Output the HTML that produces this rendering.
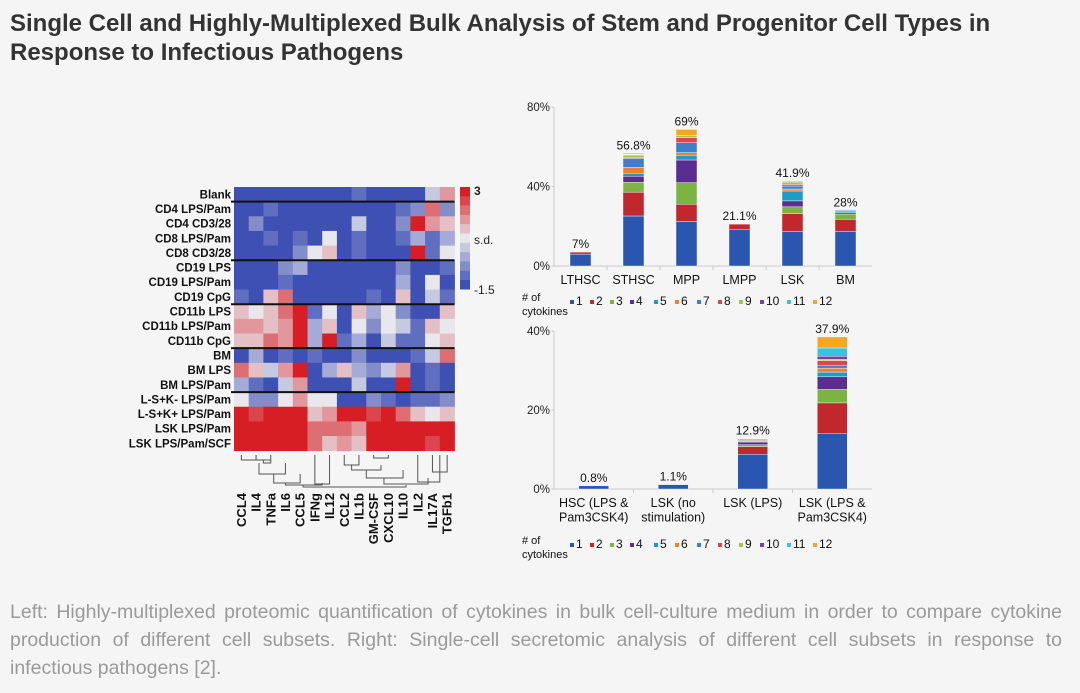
<!DOCTYPE html>
<html><head><meta charset="utf-8"><style>
body{margin:0;width:1080px;height:693px;background:#f5f5f5;overflow:hidden;font-family:"Liberation Sans",sans-serif;position:relative}
h1{position:absolute;left:10px;top:9px;margin:0;font-size:24px;line-height:29px;color:#333;font-weight:bold;width:1060px}
.cap{position:absolute;left:10px;width:1052px;font-size:19.5px;color:#9a9a9a;line-height:28px;text-align:justify;text-align-last:justify;white-space:nowrap}
svg{position:absolute;left:0;top:0}
</style></head><body>
<h1>Single Cell and Highly-Multiplexed Bulk Analysis of Stem and Progenitor Cell Types in Response to Infectious Pathogens</h1>
<div class="cap" style="top:598px">Left: Highly-multiplexed proteomic quantification of cytokines in bulk cell-culture medium in order to compare cytokine</div>
<div class="cap" style="top:626px">production of different cell subsets. Right: Single-cell secretomic analysis of different cell subsets in response to</div>
<div class="cap" style="top:654px;text-align-last:left">infectious pathogens [2].</div>
<svg width="1080" height="693" id="chart"></svg>
<script>
const rowLabels=["Blank","CD4 LPS/Pam","CD4 CD3/28","CD8 LPS/Pam","CD8 CD3/28","CD19 LPS","CD19 LPS/Pam","CD19 CpG","CD11b LPS","CD11b LPS/Pam","CD11b CpG","BM","BM LPS","BM LPS/Pam","L-S+K- LPS/Pam","L-S+K+ LPS/Pam","LSK LPS/Pam","LSK LPS/Pam/SCF"];
const colLabels=["CCL4","IL4","TNFa","IL6","CCL5","IFNg","IL12","CCL2","IL1b","GM-CSF","CXCL10","IL10","IL2","IL17A","TGFb1"];
const heatLevels=[
[0,0,0,0,0,0,0,0,1,0,0,0,0,4,7],
[0,0,1,0,0,0,0,0,0,0,0,1,2,8,2],
[0,2,0,0,0,0,0,0,4,0,0,2,10,7,6],
[0,0,1,0,1,0,5,0,1,0,0,1,3,1,3],
[0,0,0,0,2,5,6,0,1,0,0,0,10,1,5],
[0,0,0,2,3,0,0,0,0,0,0,2,0,0,1],
[0,0,0,1,0,0,0,0,0,0,0,3,0,5,0],
[1,0,6,8,0,0,0,0,0,1,0,6,0,4,1],
[6,5,6,8,10,1,5,0,6,3,5,2,0,0,6],
[7,7,6,7,10,3,6,0,5,2,5,4,1,6,5],
[6,6,8,7,10,3,10,1,3,0,4,1,1,5,6],
[0,3,0,1,0,1,0,0,2,0,0,0,1,4,8],
[8,6,4,7,10,0,3,6,3,2,4,7,0,1,0],
[3,1,0,4,7,0,0,0,4,0,0,10,0,1,0],
[5,2,2,5,7,5,5,0,0,2,1,0,1,1,2],
[10,9,10,10,10,6,7,10,10,9,10,8,6,5,6],
[10,10,10,10,10,8,8,8,7,10,10,10,10,10,10],
[10,10,10,10,10,8,6,7,6,10,10,10,10,9,10]];
const groupBreaks=[1,5,8,11,14];
const scaleTicks=["3","s.d.","-1.5"];
const catsTop=["LTHSC","STHSC","MPP","LMPP","LSK","BM"];
const totalsTop=["7%","56.8%","69%","21.1%","41.9%","28%"];
const segsTop=[
[6,1,0,0,0,0,0,0,0,0,0,0],
[25.2,12,5,3,1.5,3,4.5,0.5,1,0.3,0.3,0.5],
[22.4,8.7,10.9,11.4,2.4,1.3,5,2.5,1.2,0,0,3],
[18.5,2.6,0,0,0,0,0,0,0,0,0,0],
[17.3,9.1,3.4,3,5,1,1.5,0.8,1.2,0.3,0.3,0],
[17.3,6.2,2.7,0.6,0.5,0,0.7,0,0,0,0,0]];
const yTicksTop=[0,40,80];
const catsBot=[["HSC (LPS &","Pam3CSK4)"],["LSK (no","stimulation)"],["LSK (LPS)"],["LSK (LPS &","Pam3CSK4)"]];
const totalsBot=["0.8%","1.1%","12.9%","37.9%"];
const segsBot=[
[0.8,0,0,0,0,0,0,0,0,0,0,0],
[1.1,0,0,0,0,0,0,0,0,0,0,0],
[8.8,1.9,0.5,0.7,0.2,0.2,0.2,0.2,0.1,0,0,0],
[14.1,7.7,3.4,3.2,1.2,1,0.6,1.3,0.3,0.8,2.1,2.8]];
const yTicksBot=[0,20,40];
const legendKeys=["1","2","3","4","5","6","7","8","9","10","11","12"];
const segColors=["#2a56b0","#c0282d","#7cb342","#5c2d91","#1e9cc6","#f0812a","#3f7fc9","#e0454b","#a3c94a","#7a3fa0","#38c3e0","#f5a623"];

const svg=document.getElementById('chart');const NS="http://www.w3.org/2000/svg";
function mk(t,a,p){const e=document.createElementNS(NS,t);for(const k in a)e.setAttribute(k,a[k]);(p||svg).appendChild(e);return e;}
function txt(s,a,p){const e=mk('text',a,p);e.textContent=s;return e;}
function heatColor(l){const blue=[62,80,180],white=[232,232,236],red=[214,30,36];let c;
 if(l<=5){const t=l/5;c=blue.map((b,i)=>Math.round(b+(white[i]-b)*t));}else{const t=(l-5)/5;c=white.map((w,i)=>Math.round(w+(red[i]-w)*t));}
 return `rgb(${c})`;}
const hx=234,hy=187,cw=14.7,rh=14.65;
const hm=mk('g',{});
heatLevels.forEach((row,r)=>{row.forEach((v,c)=>{const e=mk('rect',{x:hx+c*cw,y:hy+r*rh,width:cw+0.4,height:rh+0.4,fill:heatColor(v)},hm);

});
const t=txt(rowLabels[r],{x:231,y:hy+r*rh+rh/2+4,'text-anchor':'end','font-size':11.5,'font-weight':'bold',fill:'#111'});

});
groupBreaks.forEach(b=>{const l=mk('line',{x1:hx-3,x2:hx+cw*15,y1:hy+b*rh,y2:hy+b*rh,stroke:'#111','stroke-width':2});

});
colLabels.forEach((s,c)=>{const x=hx+c*cw+cw/2+4.5;const t=txt(s,{x:x,y:493,transform:`rotate(-90 ${x} 493)`,'text-anchor':'end','font-size':13,'font-weight':'bold',fill:'#111'});

});
const cx=i=>hx+i*cw+cw/2;
const dg=mk('g',{stroke:'#555','stroke-width':1,fill:'none'});
const seg=(x1,y1,x2,y2)=>mk('path',{d:`M${x1},${y1}V${y2}H${x2}V${y1}`},dg);
seg(cx(0),455,cx(1),460);seg(cx(1.5),460,cx(2),463);seg(cx(2),455,cx(1),460);
seg(cx(1.2),463,cx(3),474);seg(cx(2.2),474,cx(4),483);seg(cx(5),455,cx(6),484);seg(cx(3),483,cx(5.5),485);
seg(cx(7),455,cx(8),465);seg(cx(9),455,cx(10),458);seg(cx(7.5),465,cx(9.5),470);seg(cx(8.5),470,cx(11),478);
seg(cx(13),455,cx(14),472);seg(cx(12),455,cx(13.5),482);seg(cx(9.7),478,cx(12.7),484);seg(cx(4.2),485,cx(11.2),487);
for(let i=0;i<11;i++){const e=mk('rect',{x:460,y:187+i*9.3,width:10,height:9.5,fill:heatColor(10-i)});

}
[[191],[240],[290]].forEach((p,i)=>{const t=txt(scaleTicks[i],{x:474,y:p[0]+4,'font-size':12,'font-weight':i==0?'bold':'normal',fill:'#222'});

});

function barChart(o){
 const y=v=>o.y0-v*o.k;
 mk('line',{x1:o.ax,x2:o.ax,y1:y(o.ticks[o.ticks.length-1]),y2:o.y0,stroke:'#ccc'});
 mk('line',{x1:o.ax,x2:o.ax2,y1:o.y0,y2:o.y0,stroke:'#ccc'});
 o.ticks.forEach(t=>{const e=txt(t+'%',{x:o.ax-4,y:y(t)+4,'text-anchor':'end','font-size':11.5,fill:'#222'});
 
 
 mk('line',{x1:o.ax-3,x2:o.ax,y1:y(t),y2:y(t),stroke:'#ccc'});});
 const n=o.cats.length,step=(o.ax2-o.ax)/n;
 o.cats.forEach((c,i)=>{const xc=o.ax+step*(i+0.5);let acc=0;
  o.segs[i].forEach((v,j)=>{if(v<=0)return;const r=mk('rect',{x:xc-o.bw/2,y:y(acc+v),width:o.bw,height:v*o.k,fill:segColors[j],stroke:'#fff','stroke-width':0.4});
  
  acc+=v;});
  const t=txt(o.totals[i],{x:xc,y:y(acc)-4,'text-anchor':'middle','font-size':12,fill:'#111'});
  
  
  (Array.isArray(c)?c:[c]).forEach((s,k)=>{const e=txt(s,{x:xc,y:o.y0+18+k*14.5,'text-anchor':'middle','font-size':12.5,fill:'#111'});
  
  });
  if(i>0) mk('line',{x1:o.ax+step*i,x2:o.ax+step*i,y1:o.y0,y2:o.y0+4,stroke:'#ccc'});
 });
 const ly=o.ly;
 txt('# of',{x:522,y:ly,'font-size':11,fill:'#111'});txt('cytokines',{x:522,y:ly+14,'font-size':11,fill:'#111'});
 const lx=[570,590,610,630,654,675,697,718,739,760,787,813];
 legendKeys.forEach((k,j)=>{const r=mk('rect',{x:lx[j],y:ly-1,width:4,height:4,fill:segColors[j]});
 
 
 const t=txt(k,{x:lx[j]+6,y:ly+4,'font-size':12,fill:'#111'});
 
 });
}
barChart({cats:catsTop,segs:segsTop,totals:totalsTop,ticks:yTicksTop,y0:266,k:1.985,ax:554,ax2:872,bw:21,ly:301});
barChart({cats:catsBot,segs:segsBot,totals:totalsBot,ticks:yTicksBot,y0:489,k:3.95,ax:554,ax2:872,bw:30,ly:544});
</script>
</body></html>
